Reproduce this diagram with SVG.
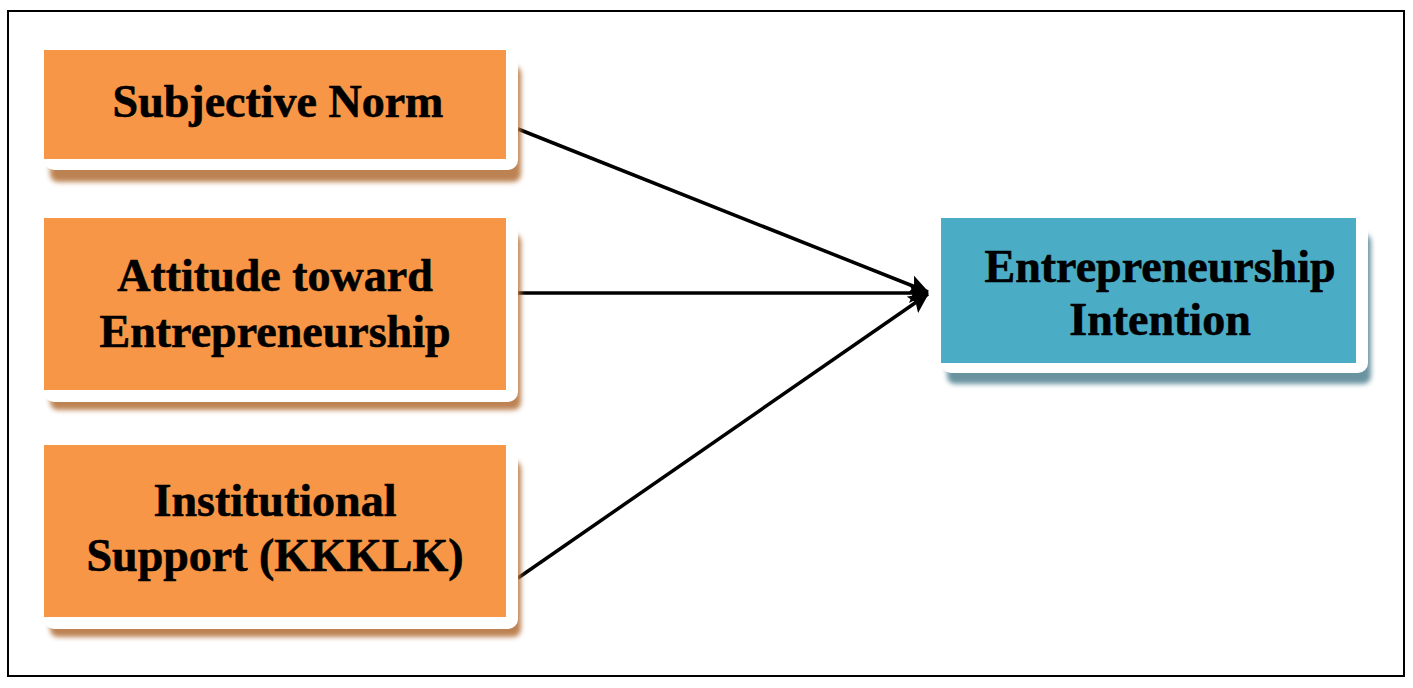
<svg xmlns="http://www.w3.org/2000/svg" width="1413" height="688" viewBox="0 0 1413 688">
  <style>
    .lbl { font-family: "Liberation Serif", "Times New Roman", serif; font-weight: bold; font-size: 46px; fill: #000; stroke: #000; stroke-width: 0.6; text-anchor: middle; }
    .frame { fill: #fff; stroke: #000; stroke-width: 2; }
    .card { fill: #fff; }
    .org { fill: #F79646; }
    .teal { fill: #4BACC6; }
    .shO { fill: #B5743F; opacity: 0.9; }
    .shT { fill: #5A8896; opacity: 0.9; }
    .conn { stroke: #000; stroke-width: 3.5; fill: none; marker-end: url(#arr); }
  </style>
  <defs>
    <filter id="blur" x="-10%" y="-20%" width="120%" height="140%">
      <feGaussianBlur stdDeviation="2.5"/>
    </filter>
    <marker id="arr" markerUnits="userSpaceOnUse" markerWidth="20" markerHeight="20" refX="19" refY="10" orient="auto">
      <path d="M0,0 L20,10 L0,20 L4,10 z" fill="#000"/>
    </marker>
  </defs>
  <rect class="frame" x="8" y="11" width="1396" height="665"/>

  <g id="connectors">
    <line class="conn" x1="518" y1="129" x2="928" y2="292"/>
    <line class="conn" x1="518" y1="293" x2="928" y2="293"/>
    <line class="conn" x1="518" y1="578" x2="928" y2="294"/>
  </g>

  <g id="subjective-norm">
    <rect class="shO" x="50" y="66" width="471" height="116" rx="8" filter="url(#blur)"/>
    <rect class="card" x="44" y="50" width="474" height="120" rx="10"/>
    <rect class="org" x="44" y="50" width="462" height="109"/>
    <text class="lbl" x="278" y="117">Subjective Norm</text>
  </g>

  <g id="attitude">
    <rect class="shO" x="50" y="234" width="471" height="176" rx="8" filter="url(#blur)"/>
    <rect class="card" x="44" y="218" width="474" height="184" rx="10"/>
    <rect class="org" x="44" y="218" width="462" height="172"/>
    <text class="lbl" x="275" y="291">Attitude toward</text>
    <text class="lbl" x="275" y="347">Entrepreneurship</text>
  </g>

  <g id="institutional">
    <rect class="shO" x="50" y="461" width="471" height="176" rx="8" filter="url(#blur)"/>
    <rect class="card" x="44" y="445" width="474" height="184" rx="10"/>
    <rect class="org" x="44" y="445" width="462" height="172"/>
    <text class="lbl" x="275" y="516">Institutional</text>
    <text class="lbl" x="275" y="571">Support (KKKLK)</text>
  </g>

  <g id="intention">
    <rect class="shT" x="947" y="234" width="424" height="150" rx="8" filter="url(#blur)"/>
    <rect class="card" x="941" y="218" width="427" height="155" rx="10"/>
    <rect class="teal" x="941" y="218" width="415" height="145"/>
    <text class="lbl" x="1160" y="282">Entrepreneurship</text>
    <text class="lbl" x="1160" y="335">Intention</text>
  </g>
</svg>
